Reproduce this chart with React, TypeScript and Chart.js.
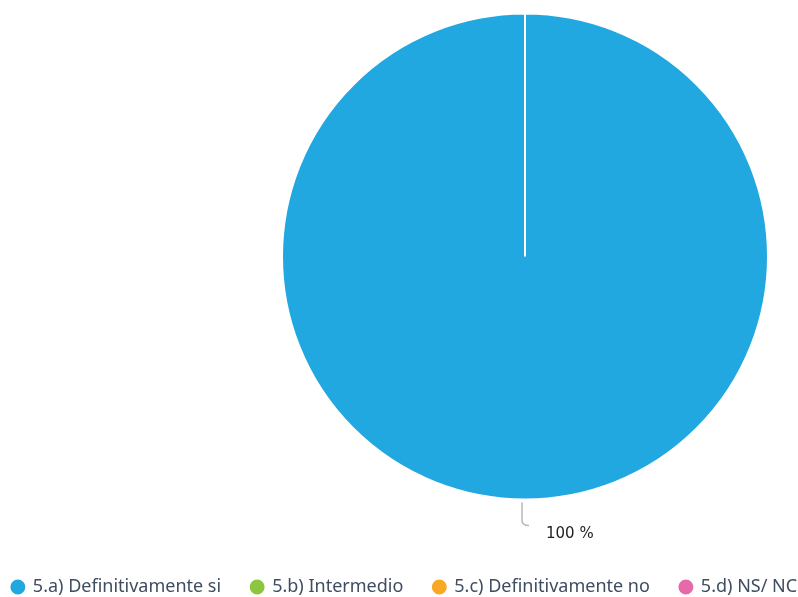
import React, { useEffect, useRef } from "react";
import { Chart, registerables, layouts } from "chart.js";

Chart.register(...registerables);

const categories = [
  "5.a) Definitivamente si",
  "5.b) Intermedio",
  "5.c) Definitivamente no",
  "5.d) NS/ NC",
];
const values = [100, 0, 0, 0];
const colors = ["#22a8e0", "#8cc63f", "#f8a822", "#e66aa8"];

const spacerPlugin = {
  id: "leftSpacer",
  beforeInit(chart: any) {
    const box: any = {
      position: "left",
      weight: 100,
      fullSize: false,
      options: {},
      left: 0,
      top: 0,
      right: 0,
      bottom: 0,
      width: 0,
      height: 0,
      isHorizontal() {
        return false;
      },
      update(maxWidth: number, maxHeight: number) {
        this.width = 277;
        this.height = maxHeight;
      },
      draw() {},
    };
    layouts.addBox(chart, box);
  },
};

const labelPlugin = {
  id: "outLabels",
  afterDatasetsDraw(chart: any) {
    const ctx = chart.ctx;
    const meta = chart.getDatasetMeta(0);
    const data = chart.data.datasets[0].data as number[];
    const total = data.reduce((a, b) => a + b, 0);
    meta.data.forEach((arc: any, i: number) => {
      const v = data[i];
      if (!v) return;
      const mid = (arc.startAngle + arc.endAngle) / 2;
      const r = arc.outerRadius;
      const sx = arc.x + Math.cos(mid) * (r + 3) - 3;
      const sy = arc.y + Math.sin(mid) * (r + 3);
      ctx.save();
      ctx.strokeStyle = "#b8b8b8";
      ctx.lineWidth = 1.5;
      ctx.beginPath();
      ctx.moveTo(sx, sy);
      ctx.lineTo(sx, sy + 18);
      ctx.quadraticCurveTo(sx, sy + 23, sx + 7, sy + 23);
      ctx.stroke();
      ctx.fillStyle = "#222222";
      ctx.font = "15px 'DejaVu Sans', sans-serif";
      ctx.textBaseline = "middle";
      ctx.textAlign = "left";
      ctx.fillText(Math.round((v / total) * 100) + " %", sx + 24, sy + 32);
      ctx.restore();
    });
  },
};

export default function App() {
  const ref = useRef<HTMLCanvasElement>(null);
  useEffect(() => {
    document.body.style.margin = "0";
    const chart = new Chart(ref.current!, {
      type: "pie",
      data: {
        labels: categories,
        datasets: [
          {
            data: values,
            backgroundColor: colors,
            borderColor: "#ffffff",
            borderWidth: 2,
            radius: 243,
          },
        ],
      },
      options: {
        responsive: false,
        animation: false,
        layout: { padding: { left: -25, right: -36, top: 0, bottom: -9 } },
        plugins: {
          tooltip: { enabled: false },
          legend: {
            position: "bottom",
            align: "center",
            title: {
              display: true,
              text: " ",
              font: { size: 10 },
              padding: { top: 23, bottom: 0 },
            },
            labels: {
              usePointStyle: true,
              pointStyle: "circle",
              boxWidth: 12,
              boxHeight: 12,
              padding: 30,
              color: "#3f4d60",
              font: { family: "'Noto Sans', sans-serif", size: 18 },
            },
          },
        },
      },
      plugins: [spacerPlugin, labelPlugin],
    });
    return () => chart.destroy();
  }, []);
  return <canvas ref={ref} width={798} height={597} style={{ display: "block" }} />;
}
